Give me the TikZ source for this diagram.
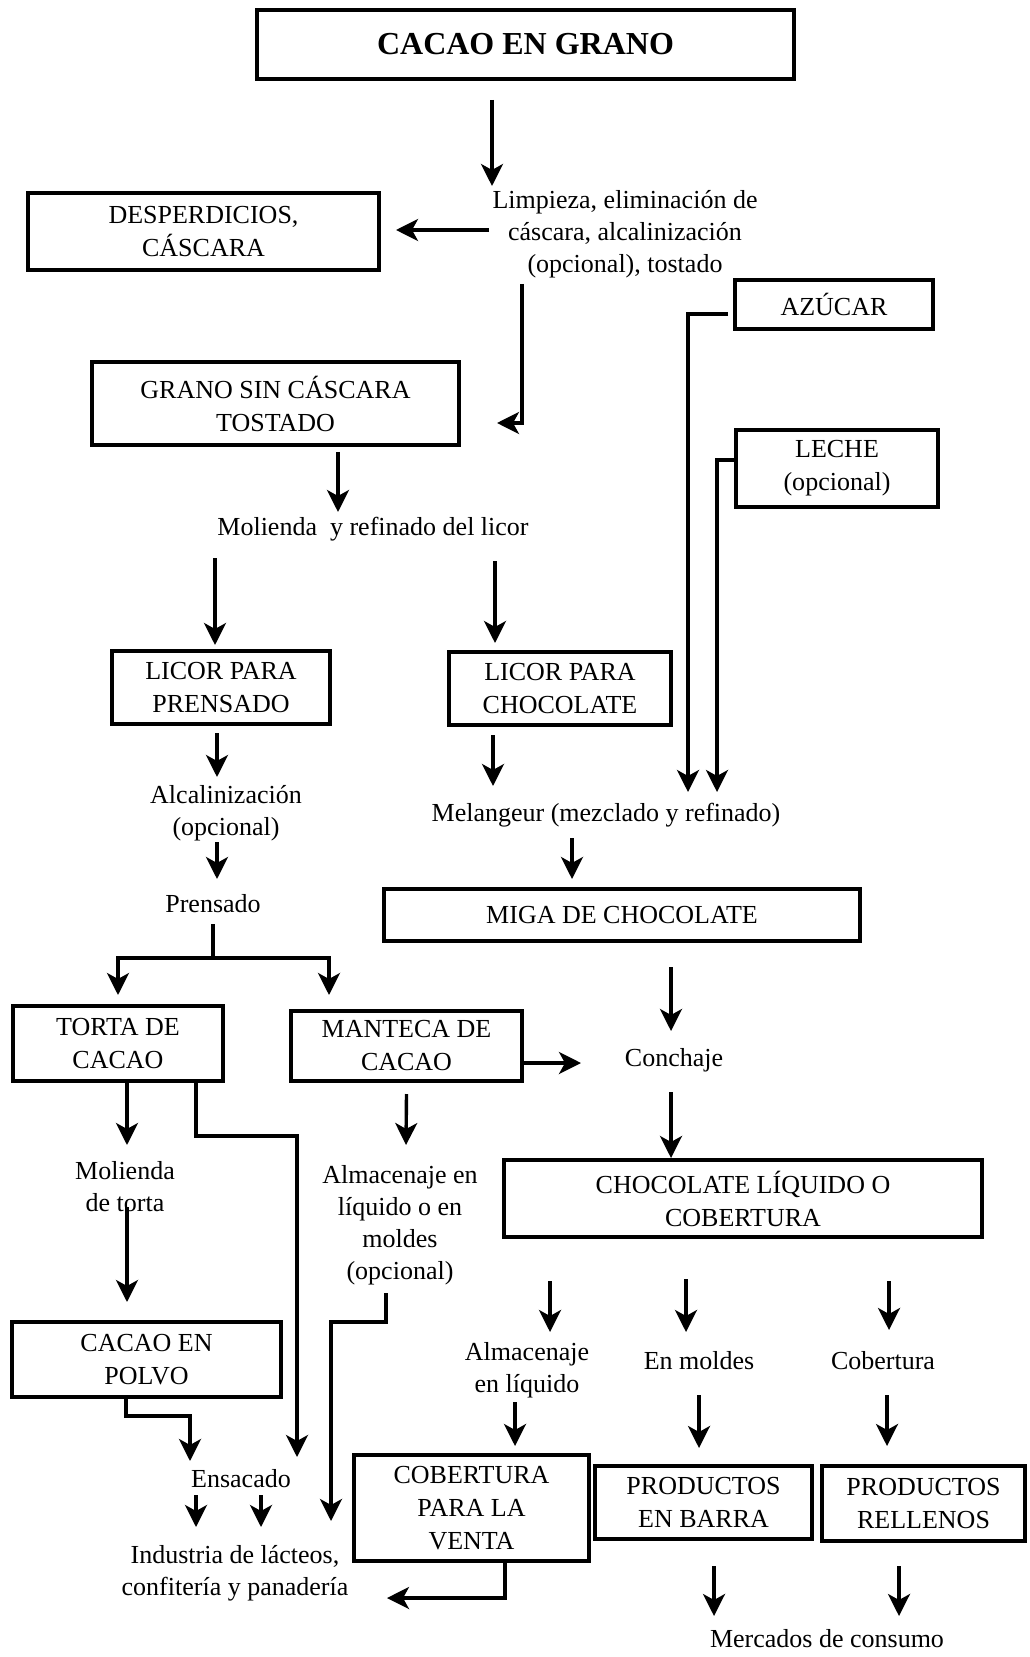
\documentclass[tikz,border=0pt]{standalone}
\usepackage{fontspec}
\setmainfont{Liberation Serif}
\usetikzlibrary{arrows.meta, calc}

\begin{document}
\begin{tikzpicture}[
  x=0.5pt, y=-0.5pt,
  box/.style={draw=black, line width=2pt, align=center, inner sep=0pt, font=\fontsize{13}{16.5}\selectfont},
  proc/.style={align=center, inner sep=2pt, font=\fontsize{13}{16}\selectfont},
  arrow/.style={-{Stealth[length=11pt, width=11pt, inset=3pt]}, line width=1.7pt},
  line/.style={line width=1.7pt}
]
\fill[white] (0,0) rectangle (1029,1657);
\useasboundingbox (0,0) rectangle (1029,1657);

\node[box, minimum width=268.5pt, minimum height=34.5pt, font=\fontsize{16}{19}\selectfont\bfseries] (cacao) at (525.5,44.5) {CACAO EN GRANO};
\node[box, minimum width=175.5pt, minimum height=38.5pt] (desp) at (203.5,231.5) {DESPERDICIOS,\\CÁSCARA};
\node[proc] (limpieza) at (625,234) {Limpieza, eliminación de\\cáscara, alcalinización\\(opcional), tostado};
\node[box, minimum width=99pt, minimum height=24.5pt] (azucar) at (834,304.5) {AZÚCAR};
\node[box, minimum width=183.5pt, minimum height=41.5pt] (grano) at (275.5,403.5) {GRANO SIN CÁSCARA\\TOSTADO};
\node[box, minimum width=101pt, minimum height=38.5pt] (leche) at (837,468.5) {LECHE\\(opcional)};
\node[proc] (molienda) at (373,529) {Molienda\ \ y refinado del licor};
\node[box, minimum width=109pt, minimum height=36.5pt] (licorp) at (221,687.5) {LICOR PARA\\PRENSADO};
\node[box, minimum width=111pt, minimum height=36.5pt] (licorc) at (560,688.5) {LICOR PARA\\CHOCOLATE};
\node[proc] (alcal) at (226,813) {Alcalinización\\(opcional)};
\node[proc] (melang) at (606,815) {Melangeur (mezclado y refinado)};
\node[proc] (prensado) at (213,904) {Prensado};
\node[box, minimum width=238pt, minimum height=26pt] (miga) at (622,915) {MIGA DE CHOCOLATE};
\node[box, minimum width=105pt, minimum height=37.5pt] (torta) at (118,1043.5) {TORTA DE\\CACAO};
\node[box, minimum width=115.5pt, minimum height=35pt] (manteca) at (406.5,1046) {MANTECA DE\\CACAO};
\node[proc] (conchaje) at (674,1060) {Conchaje};
\node[proc] (moltorta) at (125,1187) {Molienda\\de torta};
\node[proc] (almac) at (400,1225) {Almacenaje en\\líquido o en\\moldes\\(opcional)};
\node[box, minimum width=239pt, minimum height=38.5pt] (choc) at (743,1198.5) {CHOCOLATE LÍQUIDO O\\COBERTURA};
\node[box, minimum width=134.5pt, minimum height=37.5pt] (polvo) at (146.5,1359.5) {CACAO EN\\POLVO};
\node[proc] (almliq) at (527,1370) {Almacenaje\\en líquido};
\node[proc] (moldes) at (699,1361) {En moldes};
\node[proc] (cobert) at (883,1361) {Cobertura};
\node[proc] (ensacado) at (241,1479) {Ensacado};
\node[box, minimum width=117.5pt, minimum height=53pt] (cobventa) at (471.5,1508) {COBERTURA\\PARA LA\\VENTA};
\node[box, minimum width=108.5pt, minimum height=36.5pt] (barra) at (703.5,1502.5) {PRODUCTOS\\EN BARRA};
\node[box, minimum width=101.5pt, minimum height=37.5pt] (rellenos) at (923.5,1503.5) {PRODUCTOS\\RELLENOS};
\node[proc] (industria) at (235,1573) {Industria de lácteos,\\confitería y panadería};
\node[proc] (mercados) at (827,1639) {Mercados de consumo};

\draw[arrow] ($(cacao.south)+(-33.5,19)$) -- ($(limpieza.center)+(-133,-48)$);
\draw[arrow] ($(limpieza.center)+(-136,-4)$) -- ($(desp.east)+(15,-1.5)$);
\draw[arrow] ($(limpieza.center)+(-103,50)$) |- ($(grano.east)+(36,19.5)$);
\draw[arrow] ($(azucar.west)+(-5,9.5)$) -| ($(melang.center)+(82,-23)$);
\draw[arrow] ($(leche.west)+(0,-8.5)$) -| ($(melang.center)+(111,-23)$);
\draw[arrow] ($(grano.south)+(62.5,5)$) -- ($(molienda.center)+(-35,-17)$);
\draw[arrow] ($(molienda.center)+(-158,29)$) -- ($(licorp.north)+(-6,-4)$);
\draw[arrow] ($(molienda.center)+(122,32)$) -- ($(licorc.north)+(-65,-7)$);
\draw[arrow] ($(licorp.south)+(-4,7)$) -- ($(alcal.center)+(-9,-36)$);
\draw[arrow] ($(licorc.south)+(-67,8)$) -- ($(melang.center)+(-113,-29)$);
\draw[arrow] ($(alcal.center)+(-9,29)$) -- ($(prensado.center)+(4,-25)$);
\draw[arrow] ($(melang.center)+(-34,23)$) -- ($(miga.north)+(-50,-8)$);
\draw[line] ($(prensado.center)+(0,20)$) -- ($(prensado.center)+(0,54)$) coordinate (split);
\draw[arrow] (split) -| ($(torta.north)+(0,-9)$);
\draw[arrow] (split) -| ($(manteca.north west)+(40,-14)$);
\draw[arrow] ($(miga.south)+(49,24)$) -- ($(conchaje.center)+(-3,-29)$);
\draw[arrow] ($(manteca.east)+(0,17)$) -- ($(conchaje.center)+(-93,3)$);
\draw[arrow] ($(conchaje.center)+(-3,32)$) -- ($(choc.north)+(-72,0)$);
\draw[arrow] ($(torta.south)+(9,0)$) -- ($(moltorta.center)+(2,-42)$);
\draw[arrow] ($(torta.south east)+(-29,0)$) -- ++(0,53) -| ($(ensacado.center)+(56,-22)$);
\draw[arrow] ($(manteca.south)+(0,11)$) -- ($(almac.center)+(6,-80)$);
\draw[arrow] ($(moltorta.center)+(2,20)$) -- ($(polvo.north)+(-19.5,-18)$);
\draw[arrow] ($(almac.center)+(-14,68)$) -- ++(0,29) -| ($(industria.center)+(96,-52)$);
\draw[arrow] ($(polvo.south)+(-20.5,0)$) -- ++(0,17) -| ($(ensacado.center)+(-51,-18)$);
\draw[arrow] ($(ensacado.center)+(-45,16)$) -- ($(industria.center)+(-39,-46)$);
\draw[arrow] ($(ensacado.center)+(20,16)$) -- ($(industria.center)+(26,-46)$);
\draw[arrow] ($(choc.south)+(-193,42)$) -- ($(almliq.center)+(23,-38)$);
\draw[arrow] ($(choc.south)+(-57,40)$) -- ($(moldes.center)+(-13,-29)$);
\draw[arrow] ($(choc.south)+(146,42)$) -- ($(cobert.center)+(6,-31)$);
\draw[arrow] ($(almliq.center)+(-12,32)$) -- ($(cobventa.north)+(43.5,-7)$);
\draw[arrow] ($(moldes.center)+(0,34)$) -- ($(barra.north)+(-4.5,-16)$);
\draw[arrow] ($(cobert.center)+(4,34)$) -- ($(rellenos.north)+(-36.5,-18)$);
\draw[arrow] ($(cobventa.south)+(33.5,0)$) |- ($(industria.center)+(152,25)$);
\draw[arrow] ($(barra.south)+(10.5,25)$) -- ($(mercados.center)+(-113,-23)$);
\draw[arrow] ($(rellenos.south)+(-24.5,23)$) -- ($(mercados.center)+(72,-23)$);

\end{tikzpicture}
\end{document}
